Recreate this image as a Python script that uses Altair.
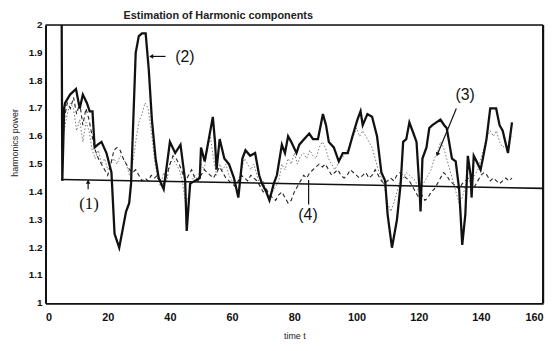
import altair as alt
import pandas as pd

# ---- data ----
bold_x = [5.2, 5.4, 6.0, 6.3, 7.9, 9.8, 11.0, 12.0, 13.3, 14.2, 15.1, 15.8, 16.8, 18.0, 19.6,
          21.2, 22.2, 23.7, 25.9, 26.9, 27.5, 29.0, 30.0, 31.0, 32.2, 33.2, 34.2, 35.4, 36.4,
          38.0, 40.0, 41.7, 43.4, 44.9, 45.4, 46.5, 48.0, 49.6, 50.0, 51.2, 53.8, 54.5, 55.0,
          56.0, 57.5, 59.0, 60.6, 62.0, 63.3, 64.3, 65.8, 67.4, 68.7, 69.6, 71.0, 72.0, 73.4,
          74.4, 76.0, 77.0, 78.0, 79.0, 80.7, 81.6, 83.2, 84.8, 86.0, 87.6, 89.2, 90.2, 91.1,
          92.7, 94.3, 95.6, 97.2, 98.7, 100.3, 101.3, 102.0, 103.5, 105.0, 106.6, 108.0, 109.2,
          110.0, 111.4, 113.0, 114.2, 115.0, 116.0, 117.0, 118.0, 119.3, 120.3, 120.6, 121.2,
          122.5, 123.4, 124.4, 127.0, 128.2, 129.0, 130.7, 131.9, 133.0, 134.0, 135.0, 135.8,
          136.7, 137.0, 137.7, 138.6, 139.9, 140.8, 141.8, 143.0, 144.9, 146.0, 147.0, 148.7, 150.0]
bold_y = [2.0, 1.44, 1.70, 1.72, 1.75, 1.77, 1.70, 1.75, 1.72, 1.69, 1.69, 1.56, 1.57, 1.58, 1.54,
          1.47, 1.25, 1.20, 1.33, 1.36, 1.43, 1.90, 1.96, 1.97, 1.97, 1.84, 1.66, 1.52, 1.45,
          1.41, 1.58, 1.54, 1.57, 1.44, 1.26, 1.43, 1.44, 1.45, 1.56, 1.51, 1.67, 1.58, 1.48,
          1.59, 1.52, 1.50, 1.45, 1.38, 1.52, 1.55, 1.53, 1.54, 1.46, 1.43, 1.40, 1.37, 1.43,
          1.46, 1.57, 1.54, 1.60, 1.58, 1.54, 1.57, 1.59, 1.61, 1.59, 1.59, 1.68, 1.64, 1.58,
          1.56, 1.51, 1.54, 1.54, 1.60, 1.66, 1.69, 1.64, 1.68, 1.67, 1.60, 1.47, 1.44,
          1.32, 1.20, 1.30, 1.43, 1.58, 1.59, 1.65, 1.62, 1.58, 1.40, 1.33, 1.52,
          1.56, 1.63, 1.64, 1.66, 1.64, 1.63, 1.52, 1.51, 1.41, 1.21, 1.32, 1.53,
          1.46, 1.38, 1.53, 1.51, 1.48, 1.53, 1.59, 1.70, 1.70, 1.64, 1.62, 1.54, 1.65]

dotted_y = [1.62, 1.68, 1.72, 1.70, 1.62, 1.66, 1.58, 1.65, 1.62, 1.55, 1.52, 1.55, 1.50, 1.52,
            1.48, 1.50, 1.52, 1.50, 1.53, 1.52, 1.50, 1.46, 1.50, 1.58, 1.65, 1.68, 1.72, 1.70,
            1.62, 1.52, 1.45, 1.42, 1.47, 1.44, 1.50, 1.52, 1.50, 1.48, 1.44, 1.36, 1.38, 1.44,
            1.46, 1.44, 1.50, 1.48, 1.55, 1.60, 1.52, 1.46, 1.50, 1.48, 1.50, 1.46, 1.44, 1.42,
            1.44, 1.48, 1.52, 1.50, 1.48, 1.50, 1.46, 1.42, 1.44, 1.40, 1.38, 1.40, 1.42, 1.44,
            1.50, 1.48, 1.52, 1.50, 1.54, 1.50, 1.53, 1.54, 1.52, 1.55, 1.53, 1.52, 1.56, 1.58,
            1.56, 1.52, 1.50, 1.48, 1.50, 1.52, 1.53, 1.55, 1.57, 1.60, 1.63, 1.60, 1.62, 1.60,
            1.58, 1.56, 1.52, 1.48, 1.45, 1.42, 1.36, 1.33, 1.36, 1.40, 1.44, 1.45, 1.47, 1.46,
            1.45, 1.44, 1.40, 1.42, 1.44, 1.46, 1.48, 1.52, 1.54, 1.58, 1.56, 1.52, 1.48, 1.44,
            1.40, 1.36, 1.38, 1.42, 1.45, 1.44, 1.46, 1.48, 1.52, 1.56, 1.60, 1.62, 1.60, 1.62,
            1.58, 1.56, 1.57, 1.58, 1.60]

dashed_y = [1.66, 1.72, 1.70, 1.74, 1.68, 1.72, 1.64, 1.70, 1.66, 1.60, 1.55, 1.52, 1.50, 1.48,
            1.46, 1.50, 1.55, 1.56, 1.55, 1.52, 1.50, 1.48, 1.47, 1.48, 1.46, 1.44, 1.45, 1.44,
            1.46, 1.45, 1.46, 1.44, 1.43, 1.46, 1.50, 1.53, 1.52, 1.50, 1.47, 1.44, 1.46, 1.48,
            1.45, 1.44, 1.46, 1.48, 1.47, 1.46, 1.45, 1.47, 1.49, 1.47, 1.45, 1.44, 1.43, 1.42,
            1.44, 1.46, 1.45, 1.44, 1.46, 1.45, 1.44, 1.42, 1.40, 1.41, 1.39, 1.38, 1.37, 1.39,
            1.40, 1.38, 1.36, 1.37, 1.40, 1.42, 1.44, 1.46, 1.45, 1.47, 1.48, 1.49, 1.50, 1.49,
            1.50, 1.48, 1.46, 1.47, 1.48, 1.46, 1.45, 1.46, 1.48, 1.47, 1.46, 1.45, 1.46, 1.47,
            1.45, 1.46, 1.48, 1.46, 1.44, 1.43, 1.44, 1.45, 1.44, 1.46, 1.47, 1.46, 1.45, 1.44,
            1.42, 1.40, 1.38, 1.39, 1.37, 1.38, 1.40, 1.41, 1.43, 1.45, 1.47, 1.46, 1.44, 1.43,
            1.42, 1.41, 1.43, 1.44, 1.45, 1.43, 1.42, 1.44, 1.46, 1.47, 1.46, 1.44, 1.45, 1.44,
            1.43, 1.44, 1.45, 1.44, 1.45]
smooth_x = list(range(6, 6 + len(dotted_y)))

ref_x = [5, 160]
ref_y = [1.445, 1.413]

y_tick_values = [1.0, 1.1, 1.2, 1.3, 1.4, 1.5, 1.6, 1.7, 1.8, 1.9, 2.0]
y_tick_labels = ["1", "1.1", "1.2", "1.3", "1.4", "1.5", "1.6", "1.7", "1.8", "1.9", "2"]
x_tick_values = [0, 20, 40, 60, 80, 100, 120, 140, 160]

label_text = ["(1)", "(2)", "(3)", "(4)"]
label_x = [14.0, 44.8, 134.9, 84.4]
label_y = [1.355, 1.883, 1.748, 1.316]
label_font = ["Liberation Serif", "Liberation Sans", "Liberation Sans", "Liberation Sans"]

arrow_x = [13.7, 38.6, 132.1, 84.6]
arrow_y = [1.41, 1.887, 1.70, 1.355]
arrow_x2 = [13.7, 34.0, 126.0, 84.6]
arrow_y2 = [1.437, 1.887, 1.535, 1.443]
head_angle = [0, 270, 202, 0]
head_show = [1, 1, 1, 0]

title_text = "Estimation of Harmonic components"
x_title = "time t"
y_title = "harmonics power"

W, H = 504, 282

# ---- build ----
bold_df = pd.DataFrame({"t": bold_x, "v": bold_y})
dot_df = pd.DataFrame({"t": smooth_x, "v": dotted_y})
dash_df = pd.DataFrame({"t": smooth_x[:len(dashed_y)], "v": dashed_y[:len(smooth_x)]})
ref_df = pd.DataFrame({"t": ref_x, "v": ref_y})
lab_df = pd.DataFrame({"t": label_x, "v": label_y, "txt": label_text, "font": label_font})
arr_df = pd.DataFrame({"t": arrow_x, "v": arrow_y, "t2": arrow_x2, "v2": arrow_y2,
                       "ang": head_angle, "show": head_show})
ytick_df = pd.DataFrame({"v": y_tick_values, "lab": y_tick_labels})
title_df = pd.DataFrame({"txt": [title_text]})

xs = alt.Scale(domain=[0, 160], nice=False)
ys = alt.Scale(domain=[1, 2], nice=False, clamp=True)

x_enc = alt.X("t:Q", scale=xs, title=x_title,
              axis=alt.Axis(values=x_tick_values, grid=False, ticks=False,
                            domain=True, domainColor="#111", domainWidth=1.6,
                            labelFont="Liberation Sans", labelFontSize=11, labelFontWeight="bold",
                            labelPadding=8, labelColor="#111", labelOverlap=False,
                            titleFont="Liberation Sans", titleFontSize=9, titleFontWeight="normal",
                            titlePadding=10, titleColor="#222"))
y_enc = alt.Y("v:Q", scale=ys, title=y_title,
              axis=alt.Axis(values=y_tick_values, grid=False, ticks=False, labels=False,
                            domain=True, domainColor="#111", domainWidth=2,
                            titleFont="Liberation Sans", titleFontSize=9, titleFontWeight="normal",
                            titleColor="#222", titleX=-31, titleY=119,
                            titleAlign="center", titleBaseline="middle"))

dot = alt.Chart(dot_df).mark_line(color="#777", strokeWidth=1, strokeDash=[1.5, 2]).encode(
    x=x_enc, y=y_enc)
dash = alt.Chart(dash_df).mark_line(color="#222", strokeWidth=1.1, strokeDash=[4, 3]).encode(
    x="t:Q", y="v:Q")
ref = alt.Chart(ref_df).mark_line(color="#111", strokeWidth=1.6).encode(x="t:Q", y="v:Q")
bold = alt.Chart(bold_df).mark_line(color="#111", strokeWidth=2.3).encode(x="t:Q", y="v:Q")

arrows = alt.Chart(arr_df).mark_rule(color="#111", strokeWidth=1.2).encode(
    x="t:Q", y="v:Q", x2="t2:Q", y2="v2:Q")
heads = alt.Chart(arr_df).transform_filter("datum.show == 1").mark_point(
    shape="triangle-up", filled=True, color="#111", size=22, opacity=1).encode(
    x="t2:Q", y="v2:Q", angle=alt.Angle("ang:Q", scale=None))

labels_sans = alt.Chart(lab_df).transform_filter("datum.font == 'Liberation Sans'").mark_text(
    font="Liberation Sans", fontSize=16, color="#111").encode(x="t:Q", y="v:Q", text="txt:N")
labels_serif = alt.Chart(lab_df).transform_filter("datum.font == 'Liberation Serif'").mark_text(
    font="Liberation Serif", fontSize=17, color="#111").encode(x="t:Q", y="v:Q", text="txt:N")

ytick_labels = alt.Chart(ytick_df).mark_text(
    font="Liberation Sans", fontSize=10, fontWeight="bold", color="#111",
    align="right", baseline="middle").encode(x=alt.value(-3), y="v:Q", text="lab:N")

top_border = alt.Chart(title_df).mark_rule(color="#111", strokeWidth=1.4).encode(
    x=alt.value(0), x2=alt.value(W), y=alt.value(0))
right_border = alt.Chart(title_df).mark_rule(color="#111", strokeWidth=2.2).encode(
    x=alt.value(W), y=alt.value(0), y2=alt.value(H))
title_mark = alt.Chart(title_df).mark_text(
    font="Liberation Sans", fontSize=11, fontWeight="bold", color="#222",
    align="center", baseline="middle").encode(
    x=alt.value(175), y=alt.value(-9), text="txt:N")

chart = alt.layer(dot, dash, ref, bold, arrows, heads, labels_sans, labels_serif,
                  ytick_labels, top_border, right_border, title_mark).properties(
    width=W, height=H,
    autosize=alt.AutoSizeParams(type="none"),
    padding={"left": 38, "top": 15, "right": 8, "bottom": 40},
).configure_view(stroke=None).configure(background="white")

chart.save("out.html", embed_options={"renderer": "svg", "actions": False})
